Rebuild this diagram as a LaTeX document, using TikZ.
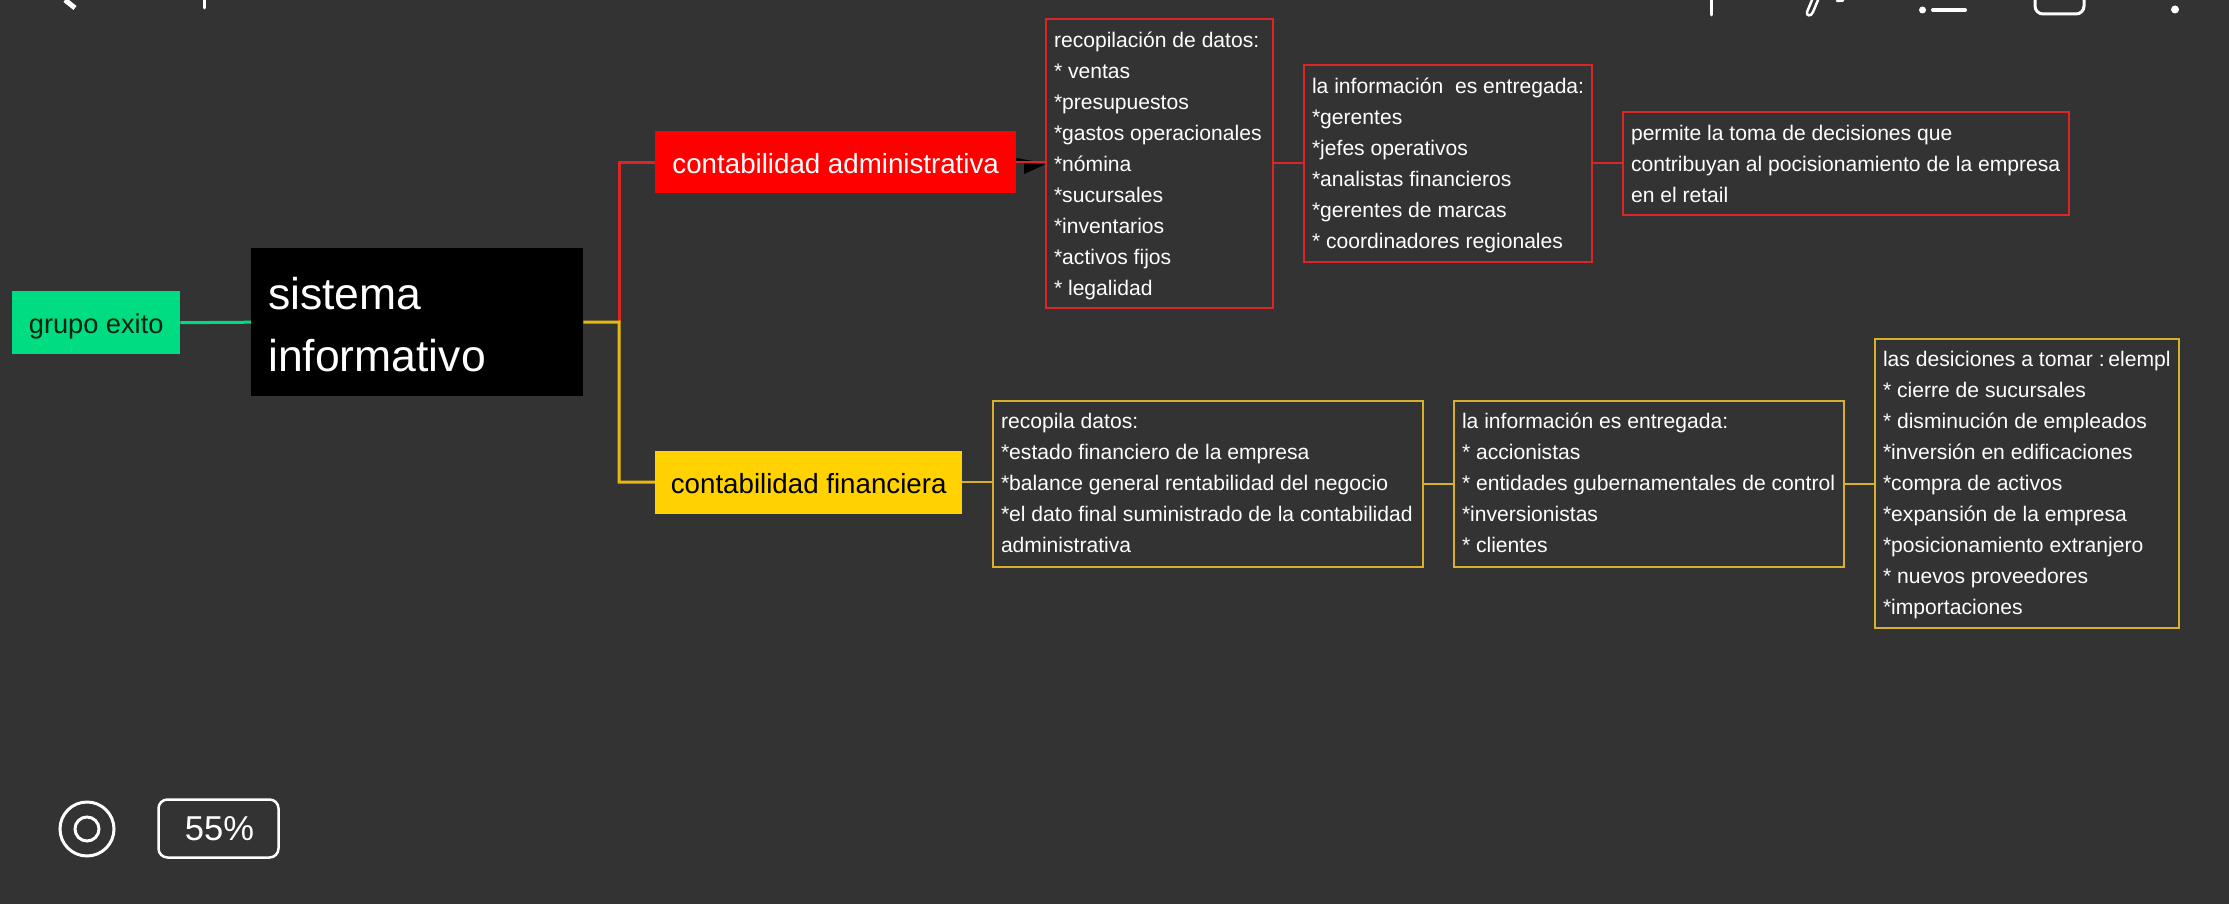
\documentclass[tikz,border=0pt]{standalone}
\usepackage{fontspec}
\setmainfont{Liberation Sans}
\definecolor{bg}{HTML}{333333}
\definecolor{grn}{HTML}{00DC82}
\definecolor{ylw}{HTML}{FFD200}
\definecolor{ln}{HTML}{E8B90F}
\definecolor{ybd}{HTML}{D9B02A}
\definecolor{rd}{HTML}{DC2626}
\newcommand{\bxt}[3][1.5pt]{\raisebox{-#1}[\height][\depth]{\makebox[#2][l]{\begin{tabular}{@{}l@{}}#3\end{tabular}}}}
\newcommand{\tpc}[2]{\raisebox{-#1}[\height][\depth]{#2}}
\tikzset{
  txt/.style={font=\fontsize{21.1}{31}\selectfont,text=white,inner xsep=8pt,inner ysep=0pt,anchor=north west},
  rbox/.style={txt,draw=rd,line width=2pt},
  ybox/.style={txt,draw=ybd,line width=2pt},
  topic/.style={font=\fontsize{27.7}{38}\selectfont,inner sep=0pt,anchor=north west},
  rline/.style={draw=rd,line width=2pt},
  yline/.style={draw=ybd,line width=2pt},
  rbranch/.style={draw=rd,line width=3pt},
  ybranch/.style={draw=ln,line width=3pt},
  uiline/.style={draw=white,line width=3pt,line cap=round},
}
\begin{document}
\begin{tikzpicture}[x=1pt,y=-1pt]
\useasboundingbox (0,0) rectangle (2229,904);
\fill[bg] (0,0) rectangle (2229,904);
\node[topic,fill=grn,text=black!85!grn,font=\fontsize{27.2}{38}\selectfont,minimum width=168pt,minimum height=63pt] (grupo) at (12,291) {\tpc{3.5pt}{grupo exito}};
\node[txt,fill=black,font=\fontsize{44.5}{62}\selectfont,inner xsep=17pt,minimum width=332pt,minimum height=148pt] (sis) at (251,248) {\tpc{4pt}{\bxt{298pt}{sistema\\informativo}}};
\node[topic,fill=red,text=white,minimum width=361pt,minimum height=62pt] (adm) at (655,131) {\tpc{1pt}{contabilidad administrativa}};
\node[topic,fill=ylw,text=black,minimum width=307pt,minimum height=63pt] (fin) at (655,450.5) {\tpc{1pt}{contabilidad financiera}};
\node[rbox,minimum width=227pt,minimum height=289pt] (r1) at (1045,18) {\bxt{211pt}{recopilación de datos:\\{}* ventas\\{}*presupuestos\\{}*gastos operacionales\\{}*nómina\\{}*sucursales\\{}*inventarios\\{}*activos fijos\\{}* legalidad}};
\node[rbox,minimum width=288pt,minimum height=197pt] (r2) at (1303,64) {\bxt{272pt}{la información\ \ es entregada:\\{}*gerentes\\{}*jefes operativos\\{}*analistas financieros\\{}*gerentes de marcas\\{}* coordinadores regionales}};
\node[rbox,minimum width=446pt,minimum height=103pt] (r3) at (1622,111) {\bxt{430pt}{permite la toma de decisiones que\\contribuyan al pocisionamiento de la empresa\\en el retail}};
\node[ybox,minimum width=430pt,minimum height=166pt] (y1) at (992,399.5) {\bxt[0.5pt]{414pt}{recopila datos:\\{}*estado financiero de la empresa\\{}*balance general rentabilidad del negocio\\{}*el dato final suministrado de la contabilidad\\administrativa}};
\node[ybox,minimum width=389.5pt,minimum height=166pt] (y2) at (1453,399.5) {\bxt[0.5pt]{373.5pt}{la información es entregada:\\{}* accionistas\\{}* entidades gubernamentales de control\\{}*inversionistas\\{}* clientes}};
\node[ybox,minimum width=304pt,minimum height=289pt] (y3) at (1874,338) {\bxt[0.5pt]{288pt}{las desiciones a tomar :\hspace{-4pt} elempl\\{}* cierre de sucursales\\{}* disminución de empleados\\{}*inversión en edificaciones\\{}*compra de activos\\{}*expansión de la empresa\\{}*posicionamiento extranjero\\{}* nuevos proveedores\\{}*importaciones}};
\coordinate (jn) at (619,322);
\draw[draw=grn,line width=3pt] (grupo.east) -- (sis.west);
\draw[rbranch] (jn) |- (adm.west);
\draw[ybranch] (sis.east) -- (jn) |- (fin.west);
\fill[black] (1024,163) -- (1045,164.5) -- (1024,174) -- cycle;
\fill[black] (1016,158) -- (1033,161) -- (1016,161) -- cycle;
\draw[rline] (adm.east) -- (adm.east -| r1.west);
\draw[rline] (r1.east) -- (r2.west);
\draw[rline] (r2.east) -- (r3.west);
\draw[yline] (fin.east) -- (fin.east -| y1.west);
\draw[yline] (y1.east) -- (y2.west);
\draw[yline] (y2.east) -- (y3.west);
% interface
\draw[uiline,line cap=butt,line width=5pt] (65,0) -- (75,8);
\draw[uiline,line width=3pt] (204,0) -- (204,8);
\draw[uiline] (1711,0) -- (1711,15);
\draw[uiline,line width=2.5pt] (1812,0) -- (1807,12) .. controls (1806,16) and (1811,17) .. (1813,12) -- (1818,0);
\draw[uiline,line width=2.5pt] (1837,1) -- (1843,0.5);
\fill[white] (1922.5,10) circle (3.5);
\draw[uiline,line width=4pt] (1933,10) -- (1965,10);
\draw[uiline,rounded corners=8pt] (2035,0) -- (2035,14) -- (2084,14) -- (2084,0);
\fill[white] (2175,9.5) circle (4);
\node[draw=white,line width=3pt,circle,minimum size=54pt,inner sep=0pt] (tgt) at (87,829) {};
\node[draw=white,line width=3pt,circle,minimum size=24pt,inner sep=0pt] (tgti) at (87,829) {};
\node[draw=white,line width=2.5pt,rounded corners=9pt,text=white,font=\fontsize{34.5}{40}\selectfont,minimum width=120pt,minimum height=58pt,inner sep=0pt] (pct) at (218.5,828.5) {\hspace{2pt}55\%};
\end{tikzpicture}
\end{document}
